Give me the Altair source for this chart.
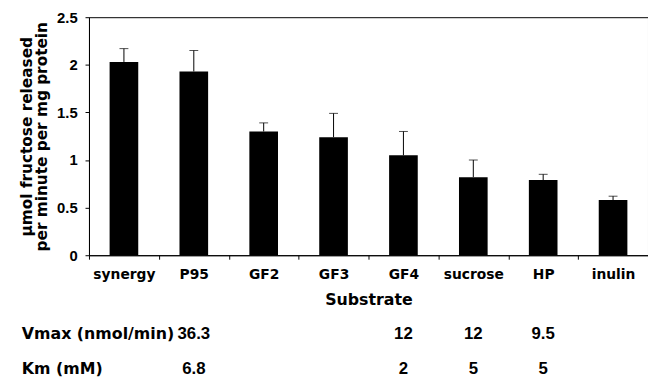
import altair as alt
import pandas as pd

categories = ["synergy", "P95", "GF2", "GF3", "GF4", "sucrose", "HP", "inulin"]
means = [2.03, 1.93, 1.30, 1.24, 1.05, 0.82, 0.79, 0.58]
errors = [0.14, 0.22, 0.09, 0.25, 0.25, 0.18, 0.06, 0.04]

table_cats = ["P95", "GF4", "sucrose", "HP"]
vmax_vals = ["36.3", "12", "12", "9.5"]
km_vals = ["6.8", "2", "5", "5"]
row_labels = ["Vmax (nmol/min)", "Km (mM)"]

y_title = ["\u03bcmol fructose released", "per minute per mg protein"]

FONT = "DejaVu Sans"
NUMFONT = "Liberation Sans"

df = pd.DataFrame({"cat": categories, "mean": means, "err": errors})
df["top"] = df["mean"] + df["err"]

xs = alt.Scale(paddingInner=0, paddingOuter=0)
x_enc = alt.X(
    "cat:N", sort=categories, scale=xs,
    axis=alt.Axis(
        title="Substrate", labelAngle=0, tickBand="extent", tickSize=4,
        labelPadding=9, titlePadding=10, labelFontSize=14, titleFontSize=16,
    ),
)
y_enc = alt.Y(
    "mean:Q",
    scale=alt.Scale(domain=[0, 2.5], nice=False),
    axis=alt.Axis(
        values=[0, 0.5, 1, 1.5, 2, 2.5], format="~g", title=y_title, grid=False,
        tickSize=4, labelPadding=8, labelFontSize=15, labelFont=NUMFONT,
        titleFontSize=15.5, titleLineHeight=15, titlePadding=7,
    ),
)

bars = alt.Chart(df).mark_bar(color="black", width=29).encode(x=x_enc, y=y_enc)

xe = alt.X("cat:N", sort=categories)
err_line = alt.Chart(df).mark_rule(color="black", strokeWidth=1).encode(
    x=xe, y="mean:Q", y2="top:Q"
)
caps = alt.Chart(df).mark_tick(color="black", size=9, thickness=1).encode(
    x=xe, y="top:Q"
)

vdf = pd.DataFrame({"cat": table_cats, "val": vmax_vals})
kdf = pd.DataFrame({"cat": table_cats, "val": km_vals})

txt = dict(fontWeight="bold", color="black", baseline="middle")

vmax_text = alt.Chart(vdf).mark_text(align="center", font=NUMFONT, fontSize=17, **txt).encode(
    x=xe, y=alt.value(321), text="val:N"
)
km_text = alt.Chart(kdf).mark_text(align="center", font=NUMFONT, fontSize=17, **txt).encode(
    x=xe, y=alt.value(356), text="val:N"
)

ldf = pd.DataFrame({"label": row_labels, "row": [0, 1]})
lab1 = alt.Chart(ldf[ldf.row == 0]).mark_text(align="left", font=FONT, fontSize=16, **txt).encode(
    x=alt.value(-68), y=alt.value(321), text="label:N"
)
lab2 = alt.Chart(ldf[ldf.row == 1]).mark_text(align="left", font=FONT, fontSize=16, **txt).encode(
    x=alt.value(-68), y=alt.value(356), text="label:N"
)

chart = (
    alt.layer(bars, err_line, caps, vmax_text, km_text, lab1, lab2)
    .properties(
        width=566, height=241,
        padding={"left": 82, "top": 7, "right": 0, "bottom": 123},
        autosize=alt.AutoSizeParams(type="none"),
        background="white",
    )
    .configure_view(stroke="black", strokeWidth=1)
    .configure_axis(
        domainColor="black", tickColor="black", labelColor="black", titleColor="black",
        labelFont=FONT, titleFont=FONT, labelFontWeight="bold", titleFontWeight="bold",
    )
)

chart.save("out.html", embed_options={"renderer": "svg", "actions": False})
